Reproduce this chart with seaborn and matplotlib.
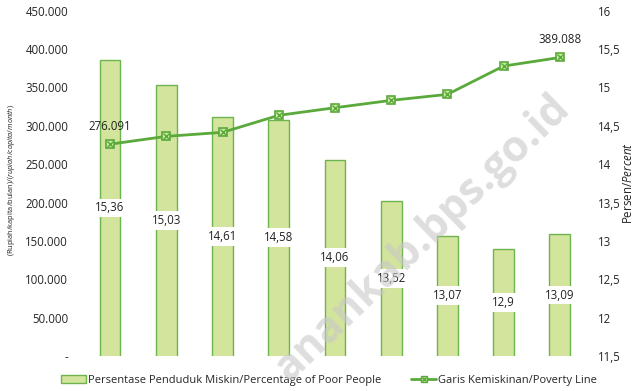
import matplotlib
matplotlib.use("Agg")
import matplotlib.pyplot as plt
import seaborn as sns
import pandas as pd
from matplotlib.patches import Patch
from matplotlib.lines import Line2D
from matplotlib.legend_handler import HandlerTuple
from matplotlib.ticker import FuncFormatter

# Data
periods = ["1", "2", "3", "4", "5", "6", "7", "8", "9"]
poor_pct = [15.36, 15.03, 14.61, 14.58, 14.06, 13.52, 13.07, 12.90, 13.09]
poverty_line = [276091, 286300, 291500, 313700, 323600, 333200, 341000, 377900, 389088]
pct_labels = ["15,36", "15,03", "14,61", "14,58", "14,06", "13,52", "13,07", "12,9", "13,09"]
line_labels = {0: "276.091", 8: "389.088"}

sns.set_theme(style="white")
plt.rcParams["font.family"] = ["Open Sans", "DejaVu Sans"]
plt.rcParams["mathtext.fontset"] = "custom"
plt.rcParams["mathtext.rm"] = "Open Sans"
plt.rcParams["mathtext.it"] = "Open Sans:italic"

GREEN = "#5aa93b"
BAR_FACE = "#d3e49c"
BAR_EDGE = "#6db44e"
LIGHT = "#c9e8a0"

df = pd.DataFrame({"period": periods, "pct": poor_pct, "line": poverty_line})
df["pos"] = range(len(df))

fig = plt.figure(figsize=(6.38, 3.91), dpi=100)
ax = fig.add_axes([0.1285, 0.0895, 0.793, 0.883])
ax2 = ax.twinx()

# Bars: percentage of poor people (right scale)
sns.barplot(data=df, x="period", y="pct", ax=ax, color=BAR_FACE, width=0.37,
            edgecolor=BAR_EDGE, linewidth=1.0, saturation=1)
ax.set_ylim(11.5, 16)
ax.set_xlim(-0.5, len(periods) - 0.5)
ax.set_yticks([11.5, 12, 12.5, 13, 13.5, 14, 14.5, 15, 15.5, 16])
ax.yaxis.set_major_formatter(FuncFormatter(lambda v, p: (f"{v:g}").replace(".", ",")))
ax.set_xlabel("")
ax.set_ylabel("")
ax.set_xticks([])
for s in ax.spines.values():
    s.set_visible(False)

for i, (v, lab) in enumerate(zip(poor_pct, pct_labels)):
    ax.text(i, (v + 11.5) / 2, lab, ha="center", va="center", fontsize=8.3, color="#222222",
            bbox=dict(boxstyle="square,pad=0.25", fc="white", ec="none"), zorder=5)

# Line: poverty line (left scale)
sns.lineplot(data=df, x="pos", y="line", ax=ax2, color=GREEN, linewidth=2.0,
             marker="s", markersize=6, markerfacecolor=LIGHT, markeredgecolor=GREEN,
             markeredgewidth=1.2)
ax2.plot(df["pos"], df["line"], linestyle="none", marker="x", markersize=4,
         markeredgewidth=1.0, color=GREEN)
ax2.set_ylim(0, 450000)
ax2.set_yticks(range(0, 450001, 50000))
ax2.yaxis.set_major_formatter(FuncFormatter(lambda v, p: "-" if v == 0 else f"{int(v):,}".replace(",", ".")))
ax2.set_xlabel("")
ax2.set_ylabel("")
ax2.set_xlim(-0.5, len(periods) - 0.5)
for s in ax2.spines.values():
    s.set_visible(False)

for i, lab in line_labels.items():
    ax2.annotate(lab, (i, poverty_line[i]), xytext=(0, 8), textcoords="offset points",
                 ha="center", va="bottom", fontsize=8.3, color="#222222")

# Axis sides: percentage on the right, rupiah on the left
ax.yaxis.tick_right()
ax.tick_params(axis="y", which="both", left=False, right=False, labelleft=False,
               labelright=True, length=0, labelsize=8.3, pad=7)
ax2.yaxis.tick_left()
ax2.tick_params(axis="y", which="both", left=False, right=False, labelleft=True,
                labelright=False, length=0, labelsize=8.3, pad=10)

# Axis titles
fig.text(628 / 638, 1 - 183 / 391, r"Persen/$\it{Percent}$", rotation=90, fontsize=8.3,
         ha="center", va="center", color="#222222")
fig.text(12 / 638, 1 - 180 / 391, r"(Rupiah/kapita/bulan)/($\it{rupiah/capita/month}$)",
         rotation=90, fontsize=5.3, ha="center", va="center", color="#222222")

# Legend
bar_handle = Patch(facecolor=BAR_FACE, edgecolor=BAR_EDGE, linewidth=1.0)
line_handle = (Line2D([], [], color=GREEN, linewidth=2.0, marker="s", markersize=5,
                      markerfacecolor=LIGHT, markeredgecolor=GREEN),
               Line2D([], [], linestyle="none", marker="x", markersize=3.5, color=GREEN))
fig.legend([bar_handle, line_handle],
           ["Persentase Penduduk Miskin/Percentage of Poor People", "Garis Kemiskinan/Poverty Line"],
           handler_map={tuple: HandlerTuple(ndivide=1, pad=0)},
           loc="center", bbox_to_anchor=(0.516, 0.027), ncol=2, frameon=False,
           fontsize=8.0, columnspacing=2.7, handlelength=2.2, handletextpad=0.2,
           handleheight=0.7)

# Site watermark
fig.text(0.662, 0.39, "anankab.bps.go.id", rotation=44, fontsize=31, fontweight="bold",
         color="#c8c8c8", alpha=0.6, ha="center", va="center", zorder=10)

fig.savefig("out.png", dpi=100)
